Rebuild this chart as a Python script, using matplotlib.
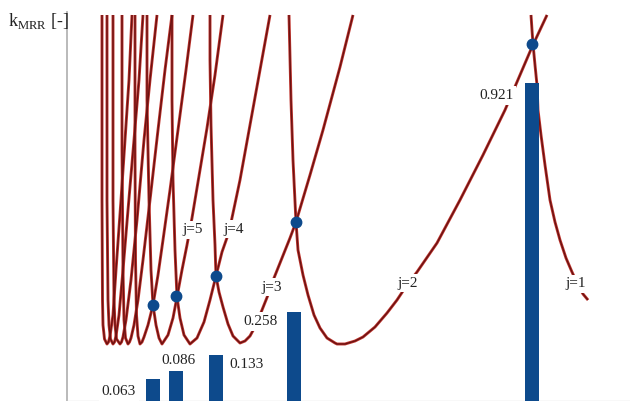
import matplotlib
matplotlib.use("Agg")
import matplotlib.pyplot as plt

plt.rcParams['font.family'] = ['Liberation Serif', 'DejaVu Serif']
plt.rcParams['mathtext.fontset'] = 'custom'
plt.rcParams['mathtext.rm'] = 'Liberation Serif'

# ---- data ----
# spindle speed axis (arbitrary units), stability limit (arbitrary units)
lobe_names = ["j=1", "j=2", "j=3", "j=4", "j=5", "j=6", "j=7", "j=8", "j=9", "j=10"]
lobe_x = {
    "j=1": [464, 465, 466, 468, 470, 471, 474, 478, 483, 488, 493, 499, 505, 511, 516, 521],
    "j=2": [222, 224, 226, 229, 231, 236, 241, 247, 253, 260, 268, 270, 278, 288, 296, 308, 320,
            330, 340, 350, 370, 393, 416, 438, 450, 465, 480],
    "j=3": [143, 143, 144, 146, 148, 149, 152, 156, 161, 166, 173, 178, 183, 189, 195, 201, 207,
            215, 223, 229, 243, 256, 273, 286],
    "j=4": [105, 105, 106, 108, 110, 113, 117, 123, 130, 137, 143, 149, 155, 162, 173, 183, 193, 203],
    "j=5": [80, 80, 82, 84, 86, 89, 92, 95, 101, 106, 110, 115, 120, 125, 133, 140, 148, 156],
    "j=6": [68, 68, 68.5, 69.5, 71, 73, 75, 77, 81, 86, 91, 96, 103, 111, 119, 126],
    "j=7": [55, 55, 56, 57, 58.5, 61, 62.5, 64, 67, 71, 76, 83, 91, 98, 105],
    "j=8": [46, 46, 47, 48, 49.5, 53, 54.5, 56, 59, 64, 70, 77, 83, 90],
    "j=9": [40, 40, 41, 42, 43.5, 46, 47.5, 49, 52, 56, 61, 67, 72, 76],
    "j=10": [35, 35, 35.5, 36, 37.5, 40, 41.5, 43, 46, 49, 54, 58, 62, 65],
}
lobe_y = {
    "j=1": [38.6, 37.1, 35.7, 33.6, 31.6, 29.1, 26.6, 23.6, 20.1, 17.9, 16.1, 14.3, 12.9, 11.6, 10.7, 10.1],
    "j=2": [38.6, 30.1, 24.1, 17.9, 15.1, 12.6, 10.6, 8.6, 7.3, 6.3, 5.8, 5.7, 5.7, 6.0, 6.4, 7.4, 8.8,
            10.1, 11.6, 12.9, 15.8, 20.1, 24.6, 29.1, 31.9, 35.4, 38.6],
    "j=3": [38.6, 34.1, 27.6, 20.1, 15.6, 12.5, 10.9, 9.4, 7.7, 6.5, 5.8, 6.0, 6.5, 7.6, 9.1, 10.6, 12.3,
            14.3, 16.3, 17.9, 22.6, 27.1, 33.4, 38.6],
    "j=4": [38.6, 30.1, 22.1, 15.1, 10.4, 8.3, 6.6, 5.7, 6.3, 7.9, 10.1, 12.5, 14.9, 16.9, 22.1, 27.6, 33.1, 38.6],
    "j=5": [38.6, 30.1, 20.1, 13.1, 9.6, 7.6, 6.3, 5.7, 6.6, 8.3, 10.4, 13.1, 15.6, 18.3, 23.1, 27.3, 32.6, 38.6],
    "j=6": [38.6, 25.1, 14.1, 8.6, 6.5, 5.7, 5.9, 6.4, 7.6, 9.6, 12.6, 16.1, 21.1, 27.1, 33.1, 38.6],
    "j=7": [38.6, 25.1, 13.1, 8.1, 6.3, 5.7, 5.9, 6.3, 7.6, 10.1, 14.1, 20.1, 27.1, 33.1, 38.6],
    "j=8": [38.6, 20.1, 10.1, 7.6, 6.2, 5.7, 5.9, 6.4, 8.1, 12.1, 18.1, 26.1, 32.1, 38.6],
    "j=9": [38.6, 20.1, 10.1, 7.6, 6.2, 5.7, 5.9, 6.5, 8.6, 13.1, 19.1, 26.1, 32.1, 38.6],
    "j=10": [38.6, 20.1, 10.1, 7.6, 6.2, 5.7, 5.9, 6.5, 8.6, 13.1, 20.1, 26.1, 32.1, 38.6],
}
# lobe intersections (optimal speeds)
dot_x = [86, 109, 149, 229, 465]
dot_y = [9.6, 10.5, 12.5, 17.9, 35.7]
# material removal rate coefficient at those speeds
bar_x = [86, 109, 149, 227, 465]
k_mrr = [0.063, 0.086, 0.133, 0.258, 0.921]
bar_labels = ["0.063", "0.086", "0.133", "0.258", "0.921"]
lobe_label_names = ["j=5", "j=4", "j=3", "j=2", "j=1"]
lobe_label_x = [126, 167, 205, 341, 509]
lobe_label_y = [17.1, 17.2, 11.4, 11.8, 11.7]

# ---- layout ----
W, H = 630, 401
fig = plt.figure(figsize=(W / 100, H / 100), dpi=100)
ax = fig.add_axes([67 / W, 0.0, 563 / W, 389 / H])
ax2 = ax.twinx()

red_outer = '#c0352e'
red_inner = '#6a1212'
blue = '#0d4a8c'

for name in lobe_names:
    ax.plot(lobe_x[name], lobe_y[name], color=red_outer, lw=2.1, zorder=2,
            solid_joinstyle='round', solid_capstyle='butt')
    ax.plot(lobe_x[name], lobe_y[name], color=red_inner, lw=1.0, zorder=3,
            solid_joinstyle='round', solid_capstyle='butt')

ax.plot(dot_x, dot_y, 'o', color=blue, ms=7.5, mec=blue, zorder=5)

for t, x, y in zip(lobe_label_names, lobe_label_x, lobe_label_y):
    ax.text(x, y, t, ha='center', va='center', fontsize=11, color='#222222', zorder=6,
            bbox=dict(boxstyle='square,pad=0.15', fc='white', ec='none'))

ax2.bar(bar_x, k_mrr, width=13.5, color=blue, zorder=3)
label_offsets = [(-34, -12), (2, 11), (31, -9), (-34, -10), (-36, -13)]
for x, v, t, off in zip(bar_x, k_mrr, bar_labels, label_offsets):
    ax2.annotate(t, (x, v), xytext=off, textcoords='offset pixels', ha='center', va='center',
                 fontsize=11, color='#222222', zorder=6,
                 bbox=dict(boxstyle='square,pad=0.2', fc='white', ec='none'))

ax.set_xlim(0, 563)
ax.set_ylim(0, 38.9)
ax2.set_ylim(0, 389 / 345.4)

for a in (ax, ax2):
    a.set_xticks([])
    a.set_yticks([])
    for s in ('top', 'right'):
        a.spines[s].set_visible(False)
ax2.spines['left'].set_visible(False)
ax2.spines['bottom'].set_visible(False)
ax.spines['left'].set_color('#b4b4b4')
ax.spines['left'].set_linewidth(1.3)
ax.spines['bottom'].set_color('#dddddd')
ax.spines['bottom'].set_linewidth(1.0)

fig.text(8 / W, 1 - 21 / H, r'k$_{\mathrm{MRR}}$ [-]', ha='left', va='center', fontsize=13,
         color='#222222')

fig.savefig('out.png', dpi=100)
